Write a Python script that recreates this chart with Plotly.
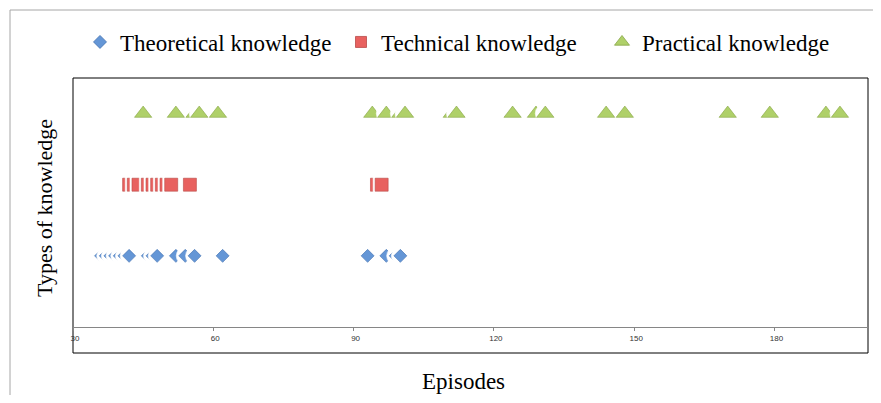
import plotly.graph_objects as go

# ---- data (episode numbers per knowledge type) ----
theoretical_x = [36, 37, 38, 39, 40, 41, 42, 46, 47, 48, 52, 54, 56, 62, 93, 97, 99, 100]
technical_x = [42, 43, 44, 46, 47, 48, 49, 50, 51, 55, 95, 96]
practical_x = [45, 52, 56, 57, 61, 94, 97, 100, 101, 111, 112, 124, 129, 131, 144, 148, 170, 179, 191, 194]
series_names = ["Theoretical knowledge", "Technical knowledge", "Practical knowledge"]
series_level = [1, 2, 3]
tick_vals = [30, 60, 90, 120, 150, 180]
tick_text = ["30", "60", "90", "120", "150", "180"]

styles = [
    dict(symbol="diamond", size=10, fill="#6496D6", edge="#4472B0", lsize=10,
         halo_symbol="circle", halo_size=18),
    dict(symbol="square", size=13, fill="#E8615F", edge="#B84A47", lsize=11,
         halo_symbol="square", halo_size=17),
    dict(symbol="triangle-up", size=15, fill="#AFD069", edge="#86A545", lsize=13,
         halo_symbol="circle", halo_size=20),
]

fig = go.Figure()
for name, level, xs, st in zip(series_names, series_level,
                                [theoretical_x, technical_x, practical_x], styles):
    X, Y, S, C, LC, SY = [], [], [], [], [], []
    for v in xs:
        # white halo first, then the coloured marker on top
        X += [v, v]
        Y += [level, level]
        S += [st["halo_size"], st["size"]]
        C += ["white", st["fill"]]
        LC += ["white", st["edge"]]
        SY += [st["halo_symbol"], st["symbol"]]
    fig.add_trace(go.Scatter(
        x=X, y=Y, mode="markers", showlegend=False, hoverinfo="skip",
        marker=dict(symbol=SY, size=S, color=C,
                    line=dict(color=LC, width=0.6), opacity=1),
    ))
    fig.add_trace(go.Scatter(
        x=[None], y=[None], mode="markers", name=name,
        marker=dict(symbol=st["symbol"], size=st["lsize"], color=st["fill"],
                    line=dict(color=st["edge"], width=0.8)),
    ))

# page has an 8px body margin; figure sized to fit inside the 881x403 window
OFF = 8
W, H = 881 - 2 * OFF, 403 - 2 * OFF
# desired page-pixel positions of the plot area
PL, PR, PT, PB = 73, 868, 78, 327
L, R, T, B = PL - OFF, W - (PR - OFF), PT - OFF, H - (PB - OFF)
pw, ph = W - L - R, H - T - B

def px_x(p):
    return (p - OFF - L) / pw

def px_y(p):
    return (H - B - (p - OFF)) / ph

fig.update_layout(
    width=W, height=H,
    margin=dict(l=L, r=R, t=T, b=B, pad=0, autoexpand=False),
    paper_bgcolor="white", plot_bgcolor="white",
    font=dict(family="Liberation Serif", size=23, color="black"),
    legend=dict(orientation="h", xref="container", yref="container",
                x=(80 - OFF) / W, y=1 - (42 - OFF) / H,
                xanchor="left", yanchor="middle",
                entrywidth=216, entrywidthmode="pixels",
                font=dict(family="Liberation Serif", size=23, color="black"),
                bgcolor="rgba(0,0,0,0)", itemsizing="trace"),
    xaxis=dict(range=[30, 200], tickvals=tick_vals, ticktext=tick_text,
               showgrid=False, zeroline=False, showline=True,
               linecolor="#868686", linewidth=1,
               ticks="outside", ticklen=3, tickcolor="#868686",
               tickfont=dict(family="Liberation Sans", size=8, color="#333333"),
               ticklabelshift=2),
    yaxis=dict(range=[0, 3.5], visible=False, showgrid=False, zeroline=False),
    shapes=[
        # outer chart border
        dict(type="rect", xref="paper", yref="paper",
             x0=px_x(10), x1=px_x(900), y0=px_y(430), y1=px_y(10),
             line=dict(color="#A6A6A6", width=1), layer="below"),
        # plot area border
        dict(type="rect", xref="paper", yref="paper",
             x0=0, x1=1, y0=px_y(353), y1=1,
             line=dict(color="black", width=1), layer="below"),
    ],
    annotations=[
        dict(text="Episodes", xref="paper", yref="paper",
             x=px_x(463), y=px_y(381), xanchor="center", yanchor="middle",
             showarrow=False, font=dict(family="Liberation Serif", size=23)),
        dict(text="Types of knowledge", xref="paper", yref="paper",
             x=px_x(44), y=px_y(208), xanchor="center", yanchor="middle",
             textangle=-90, showarrow=False,
             font=dict(family="Liberation Serif", size=22)),
    ],
)

fig.write_html("out.html")
